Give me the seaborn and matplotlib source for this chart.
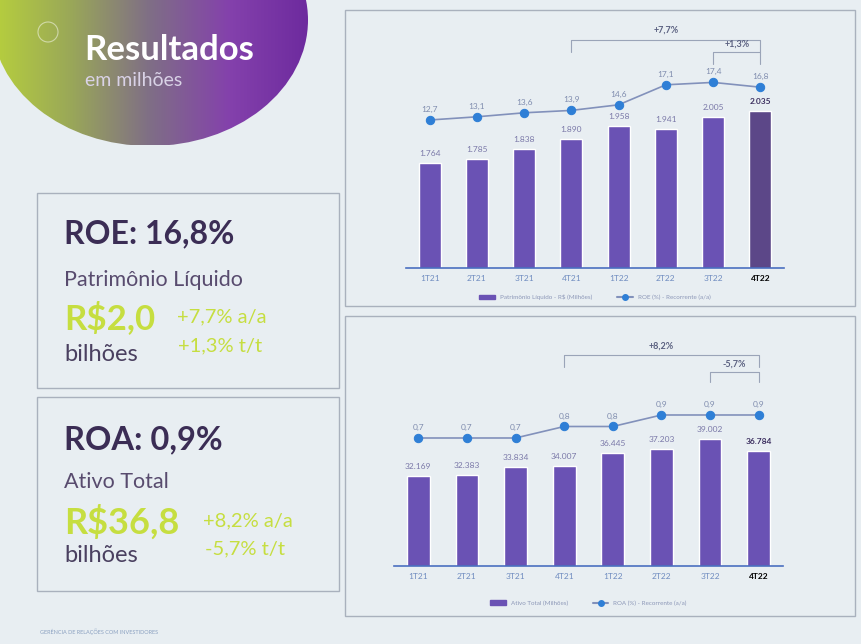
import numpy as np
import pandas as pd
import matplotlib
matplotlib.use("Agg")
import matplotlib.pyplot as plt
import seaborn as sns
from matplotlib.patches import Ellipse, Rectangle, Circle, Patch
from matplotlib.lines import Line2D
from matplotlib.colors import LinearSegmentedColormap

trimestres = ["1T21", "2T21", "3T21", "4T21", "1T22", "2T22", "3T22", "4T22"]
patrimonio = [1764, 1785, 1838, 1890, 1958, 1941, 2005, 2035]
roe = [12.7, 13.1, 13.6, 13.9, 14.6, 17.1, 17.4, 16.8]
ativo = [32169, 32383, 33834, 34007, 36445, 37203, 39002, 36784]
roa = [0.7, 0.7, 0.7, 0.8, 0.8, 0.9, 0.9, 0.9]


def fmt_milhar(v):
    return f"{v:,}".replace(",", ".")


def fmt_dec(v):
    return f"{v:.1f}".replace(".", ",")


sns.set_theme(style="white")
plt.rcParams["font.family"] = ["Lato", "DejaVu Sans"]

W, H = 862, 644
fig = plt.figure(figsize=(W / 100, H / 100), dpi=100)
fig.patch.set_facecolor("#e8eef2")

# fundo em coordenadas de pixel
bg = fig.add_axes([0, 0, 1, 1])
grad = np.tile(np.linspace(0, 1, 256), (64, 1))
cmap = LinearSegmentedColormap.from_list("blob", ["#b8d13c", "#9aa858", "#7f6e86", "#8441ac", "#6d2a9e"])
im = bg.imshow(grad, cmap=cmap, extent=(-10, 310, 145, -105), aspect="auto")
elipse = Ellipse((150, 20), 316, 252, transform=bg.transData)
im.set_clip_path(elipse)
bg.set_xlim(0, W)
bg.set_ylim(H, 0)
bg.axis("off")

bg.add_patch(Circle((48, 32), 10, fill=False, ec="white", lw=0.8, alpha=0.5))
bg.text(84, 50, "Resultados", color="white", fontsize=25, fontweight="bold", va="center")
bg.text(85, 80, "em milhões", color="#d9d2e6", fontsize=14, va="center")

caixa = dict(fill=False, ec="#a9b1bd", lw=1)
bg.add_patch(Rectangle((37, 193), 302, 195, **caixa))
bg.add_patch(Rectangle((37, 397), 302, 194, **caixa))
bg.add_patch(Rectangle((345, 10), 510, 296, **caixa))
bg.add_patch(Rectangle((345, 316), 510, 300, **caixa))

roxo = "#3b2d55"
verde = "#c6de40"
bg.text(64, 234, "ROE: 16,8%", color=roxo, fontsize=23, fontweight="bold", va="center")
bg.text(64, 280, "Patrimônio Líquido", color="#584b6e", fontsize=15.5, va="center")
bg.text(64, 318, "R$2,0", color=verde, fontsize=25, fontweight="bold", va="center")
bg.text(177, 317, "+7,7% a/a", color=verde, fontsize=14.5, va="center")
bg.text(178, 346, "+1,3% t/t", color=verde, fontsize=14.5, va="center")
bg.text(64, 354, "bilhões", color="#4a4060", fontsize=17, va="center")

bg.text(64, 440, "ROA: 0,9%", color=roxo, fontsize=23.5, fontweight="bold", va="center")
bg.text(64, 482, "Ativo Total", color="#584b6e", fontsize=15.5, va="center")
bg.text(64, 522, "R$36,8", color=verde, fontsize=26, fontweight="bold", va="center")
bg.text(203, 521, "+8,2% a/a", color=verde, fontsize=14.5, va="center")
bg.text(205, 549, "-5,7% t/t", color=verde, fontsize=14.5, va="center")
bg.text(64, 556, "bilhões", color="#4a4060", fontsize=17, va="center")

bg.text(40, 632, "GERÊNCIA DE RELAÇÕES COM INVESTIDORES", color="#8aa0c0", fontsize=4, va="center")

cor_barra = "#6a52b4"
cor_ultima = "#5c4788"
cor_linha = "#8291bb"
cor_marker = "#2f7fd6"


def grafico(rect, barras, linha, lim_barra, lim_linha, nome_barra, nome_linha,
            cores, chaves, y_leg):
    ax = fig.add_axes(rect)
    df = pd.DataFrame({"tri": trimestres, "barra": barras, "linha": linha})
    sns.barplot(data=df, x="tri", y="barra", hue="tri", palette=cores, legend=False,
                width=0.47, saturation=1, ax=ax)
    ax.set_ylim(*lim_barra)
    for i, v in enumerate(barras):
        ax.annotate(fmt_milhar(v), (i, v), xytext=(0, 4), textcoords="offset points",
                    ha="center", va="bottom", fontsize=6,
                    color="#3c2f60" if i == 7 else "#7a78a8",
                    fontweight="bold" if i == 7 else "normal")
    ax2 = ax.twinx()
    sns.lineplot(x=np.arange(len(linha)), y=linha, ax=ax2, color=cor_linha, lw=1.2,
                 marker="o", markersize=6, markerfacecolor=cor_marker,
                 markeredgecolor=cor_marker)
    ax2.set_ylim(*lim_linha)
    for i, v in enumerate(linha):
        ax2.annotate(fmt_dec(v), (i, v), xytext=(0, 5), textcoords="offset points",
                     ha="center", va="bottom", fontsize=6, color="#7f8cae")
    ax.set_xlim(-0.5, 7.5)
    ax.set_xlabel("")
    ax.set_ylabel("")
    ax2.set_ylabel("")
    ax.set_yticks([])
    ax2.set_yticks([])
    for a in (ax, ax2):
        a.set_facecolor("none")
        for s in ("top", "left", "right"):
            a.spines[s].set_visible(False)
    ax2.spines["bottom"].set_visible(False)
    ax.spines["bottom"].set_color("#4a6fc0")
    ax.spines["bottom"].set_linewidth(1.2)
    ax.tick_params(axis="x", length=0, labelsize=6, colors="#6f8cc0", pad=5)
    ultimo = ax.get_xticklabels()[-1]
    ultimo.set_fontweight("bold")
    ultimo.set_color("black")

    tr = ax2.get_xaxis_transform()
    for x0, x1, y_h, y_b, y_t, txt in chaves:
        ax2.plot([x0, x0, x1, x1], [y_b, y_h, y_h, y_b], transform=tr,
                 color="#9aa4b8", lw=0.8, clip_on=False)
        ax2.text((x0 + x1) / 2, y_t, txt, transform=tr, ha="center", va="center",
                 fontsize=6.5, fontweight="bold", color="#5a6080")

    handles = [Patch(color=cores[0], label=nome_barra),
               Line2D([], [], color=cor_linha, marker="o", markerfacecolor=cor_marker,
                      markeredgecolor=cor_marker, markersize=4, label=nome_linha)]
    ax.legend(handles=handles, loc="center", bbox_to_anchor=(0.5, y_leg), ncol=2,
              frameon=False, fontsize=4.5, handlelength=2.5, columnspacing=4,
              labelcolor="#8d98b8")
    return ax


cores_pl = [cor_barra] * 7 + [cor_ultima]
grafico([406 / W, 1 - 268 / H, 378 / W, 248 / H], patrimonio, roe,
        (1218, 2508), (-5.8, 25.2),
        "Patrimônio Líquido - R$ (Milhões)", "ROE (%) - Recorrente (a/a)",
        cores_pl,
        [(3, 7, 0.919, 0.871, 0.96, "+7,7%"),
         (6, 7, 0.871, 0.823, 0.903, "+1,3%")],
        -0.117)

cores_at = [cor_barra] * 8
grafico([394 / W, 1 - 566 / H, 389 / W, 236 / H], ativo, roa,
        (15546, 59135), (-0.413, 1.639),
        "Ativo Total (Milhões)", "ROA (%) - Recorrente (a/a)",
        cores_at,
        [(3, 7, 0.894, 0.843, 0.932, "+8,2%"),
         (6, 7, 0.822, 0.78, 0.856, "-5,7%")],
        -0.157)

fig.savefig("out.png", dpi=100, facecolor=fig.get_facecolor())
